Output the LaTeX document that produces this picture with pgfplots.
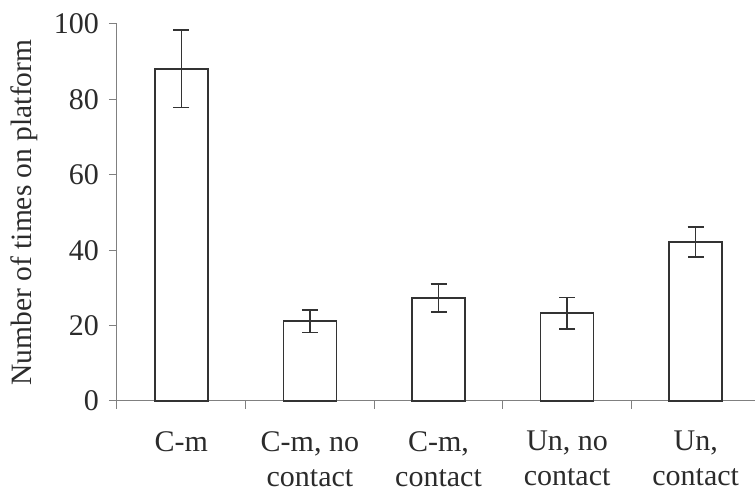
\documentclass[border=0pt]{standalone}
\usepackage{pgfplots}
\pgfplotsset{compat=1.18}
\usepackage{fontspec}
\setmainfont{Liberation Serif}
\definecolor{txt}{HTML}{2B2B2B}
\definecolor{axl}{HTML}{808080}
\definecolor{barc}{HTML}{333333}
\pgfplotstableread{
x y e
0 88.1 10.3
1 21.2 3.0
2 27.3 3.7
3 23.3 4.2
4 42.2 4.0
}\datatable
\begin{document}
\fontsize{30}{35}\selectfont
\begin{tikzpicture}
\path[use as bounding box] (-117pt,-91pt) rectangle (638pt,401pt);
\begin{axis}[
  at={(0pt,0pt)}, anchor=south west,
  scale only axis, width=638pt, height=377pt,
  xmin=-0.5, xmax=4.461, ymin=0, ymax=100,
  axis x line=bottom, axis y line=left,
  axis line style={axl, line width=1pt, -},
  ytick={0,20,...,100},
  xtick={-0.5,0.5,1.5,2.5,3.5},
  xticklabels={},
  extra x ticks={0,1,2,3,4},
  extra x tick labels={{C-m},{C-m, no\\contact},{C-m,\\contact},{Un, no\\contact},{Un,\\contact}},
  extra x tick style={tick style={draw=none}, xticklabel style={align=center, yshift=-12pt}},
  tick align=outside,
  major tick length=8pt,
  tick style={axl, line width=1pt},
  /pgf/number format/assume math mode=true,
  tick label style={font=\fontsize{30}{35}\selectfont, text=txt},
  ylabel={Number of times on platform},
  ylabel shift=-4pt,
  ylabel style={font=\fontsize{29.5}{35}\selectfont, text=txt},
  clip=false,
]
\addplot[ybar, bar width=53pt, draw=barc, fill=white, line width=1.5pt,
  error bars/.cd, y dir=both, y explicit,
  error bar style={line width=1.5pt, barc},
  error mark options={rotate=90, mark size=8pt, line width=1.5pt, barc}]
  table[x=x, y=y, y error=e] {\datatable};
\end{axis}
\end{tikzpicture}
\end{document}
